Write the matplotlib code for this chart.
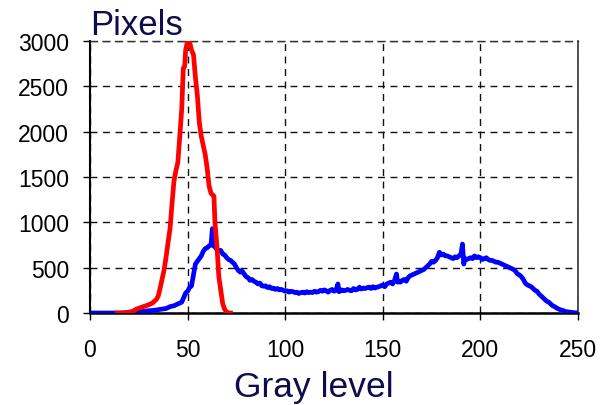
import matplotlib
matplotlib.use("Agg")
import matplotlib.pyplot as plt

plt.rcParams['font.family'] = ['Liberation Sans', 'DejaVu Sans']

# Red histogram (dark object)
red_x = [14, 16, 18, 20, 22, 24, 26, 28, 30, 32, 34, 35, 36, 37, 38, 39, 40, 41, 42, 43,
         44, 45, 46, 47, 47.8, 48.5, 49, 50, 51, 52, 53, 54, 55, 56, 57, 58, 59, 60, 61, 62,
         63, 63.5, 64, 65, 66, 67, 68, 69, 70, 71, 72]
red_y = [0, 0, 5, 10, 20, 45, 60, 75, 90, 110, 150, 190, 280, 380, 480, 620, 780, 930, 1200, 1450,
         1570, 1660, 1950, 2250, 2700, 2720, 2900, 3000, 2990, 2900, 2850, 2600, 2400, 2100, 1950, 1850, 1750, 1600, 1400, 1320,
         1300, 1290, 1000, 750, 400, 250, 100, 40, 10, 0, 0]

# Blue histogram (whole image)
blue_x = [0, 5, 10, 15, 20, 24, 28, 30, 33, 36, 39, 41, 43, 45, 47, 48, 49, 50, 51, 52,
          53, 54, 55, 56, 57, 58, 59, 60, 61, 62, 62.7, 63.3, 64, 65, 66, 67, 68, 69, 70, 71,
          72, 73, 74, 75, 76, 77, 78, 79, 80, 81, 82, 83, 84, 85, 86, 87, 88, 89, 90, 91,
          92, 93, 94, 95, 96, 97, 98, 99, 100, 101, 102, 103, 104, 105, 106, 107, 108, 109, 110, 111,
          112, 113, 114, 115, 116, 117, 118, 119, 120, 121, 122, 123, 124, 125, 126, 127, 127.6, 128, 129, 130,
          131, 132, 133, 134, 135, 136, 137, 138, 139, 140, 141, 142, 143, 144, 145, 146, 147, 148, 149, 150,
          151, 152, 153, 154, 155, 156, 157, 157.6, 158, 159, 160, 161, 162, 163, 164, 165, 166, 167, 168, 169,
          170, 171, 172, 173, 174, 175, 176, 177, 178, 179, 180, 181, 182, 183, 184, 185, 186, 187, 188, 189,
          190, 190.8, 191.5, 192, 193, 194, 195, 196, 197, 198, 199, 200, 201, 202, 203, 204, 205, 206, 207, 208,
          209, 210, 211, 212, 213, 214, 215, 216, 217, 218, 219, 220, 221, 222, 223, 224, 225, 226, 227, 228,
          229, 230, 231, 232, 233, 234, 235, 236, 237, 238, 239, 240, 241, 242, 243, 244, 245, 246, 247, 248,
          249, 250]
blue_y = [0, 0, 0, 0, 0, 10, 20, 25, 30, 40, 50, 70, 80, 100, 120, 170, 220, 240, 280, 300,
          420, 540, 570, 600, 630, 680, 710, 720, 740, 750, 930, 740, 730, 700, 690, 690, 650, 640, 610, 590,
          580, 560, 540, 500, 470, 450, 460, 430, 400, 390, 360, 370, 350, 340, 320, 330, 300, 295, 300, 280,
          290, 270, 275, 260, 270, 255, 260, 250, 240, 245, 230, 240, 235, 225, 230, 215, 225, 230, 220, 235,
          225, 230, 225, 240, 230, 235, 250, 240, 255, 245, 230, 250, 260, 240, 250, 320, 235, 240, 255, 245,
          250, 260, 250, 245, 270, 255, 260, 285, 265, 275, 270, 280, 285, 270, 290, 275, 285, 290, 300, 310,
          290, 320, 330, 340, 320, 360, 430, 340, 350, 340, 360, 370, 350, 390, 410, 420, 430, 440, 450, 460,
          470, 480, 500, 520, 540, 570, 560, 580, 610, 670, 640, 650, 630, 630, 620, 610, 600, 620, 610, 630,
          640, 760, 540, 600, 590, 600, 610, 600, 630, 610, 620, 610, 590, 600, 610, 590, 580, 580, 570, 560,
          560, 550, 540, 530, 520, 510, 500, 490, 480, 460, 430, 420, 400, 370, 330, 310, 300, 290, 270, 250,
          240, 210, 190, 170, 150, 130, 120, 100, 80, 70, 55, 45, 35, 30, 20, 15, 12, 10, 5, 3,
          2, 0]

x_ticks = [0, 50, 100, 150, 200, 250]
y_ticks = [0, 500, 1000, 1500, 2000, 2500, 3000]

navy = '#0d0d4d'

fig = plt.figure(figsize=(6.01, 4.06), dpi=100)
ax = fig.add_axes([90/601, 1-314/406, 488/601, 272/406])

ax.plot(blue_x, blue_y, color='#0000ff', lw=3.4, solid_joinstyle='round', zorder=3)
ax.plot(red_x, red_y, color='#ff0000', lw=3.4, solid_joinstyle='round', zorder=4)

ax.set_xlim(0, 250)
ax.set_ylim(0, 3000)
ax.set_xticks(x_ticks)
ax.set_yticks(y_ticks)
ax.grid(True, color='#111111', lw=1.0, linestyle=(0, (5, 4)))
ax.set_axisbelow(True)

ax.spines['left'].set_color('black')
ax.spines['left'].set_linewidth(1.5)
ax.spines['bottom'].set_color('black')
ax.spines['bottom'].set_linewidth(1.8)
ax.spines['right'].set_color('#333333')
ax.spines['right'].set_linewidth(1.2)
ax.spines['top'].set_color('#333333')
ax.spines['top'].set_linewidth(1.0)
ax.spines['top'].set_linestyle((0, (5, 4)))

ax.tick_params(axis='x', direction='out', length=5, width=1, pad=13, labelsize=16.5)
ax.tick_params(axis='y', direction='out', length=5, width=1, pad=10, labelsize=16.5)

fig.text(90/601, 1-35/406, 'Pixels', fontsize=25, color=navy, ha='left', va='baseline')
fig.text(314/601, 1-397/406, 'Gray level', fontsize=25.5, color=navy, ha='center', va='baseline')

fig.savefig('out.png', dpi=100)
